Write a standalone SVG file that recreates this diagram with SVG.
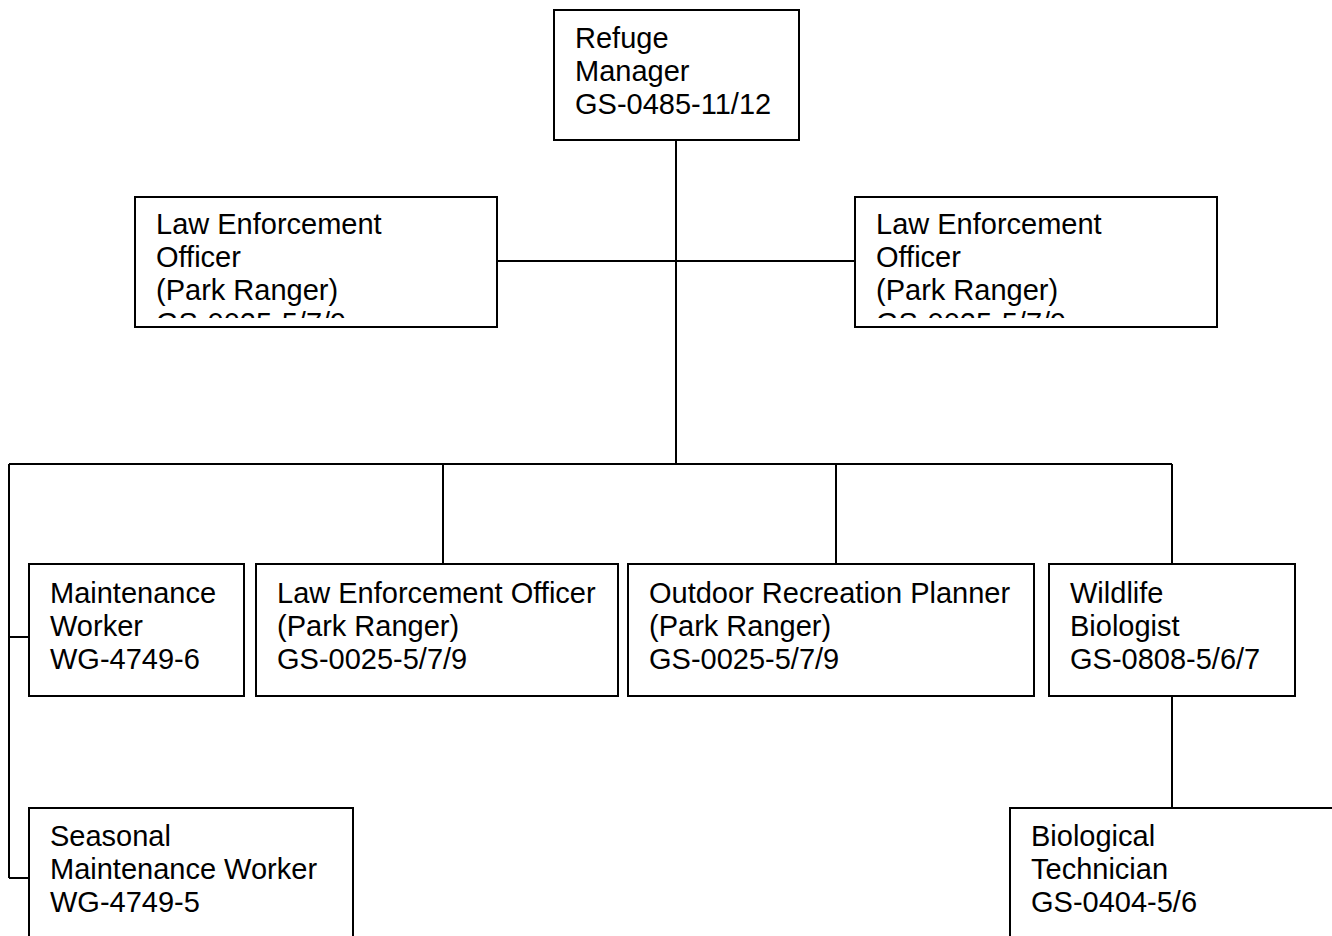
<svg xmlns="http://www.w3.org/2000/svg" width="1332" height="936" viewBox="0 0 1332 936">
<style>
.box{fill:#fff;stroke:#000;stroke-width:2}
.lbl{font-family:"Liberation Sans",Arial,sans-serif;font-size:29px;fill:#000}
.con{stroke:#000;stroke-width:2;fill:none}
</style>
<defs>
<clipPath id="clipL"><rect x="135" y="197" width="362" height="121"/></clipPath>
<clipPath id="clipR"><rect x="855" y="197" width="362" height="121"/></clipPath>
</defs>
<rect width="1332" height="936" fill="#fff"/>
<g id="connectors">
<path class="con" d="M676,140 V464"/>
<path class="con" d="M497,261 H855"/>
<path class="con" d="M9,464 H1172"/>
<path class="con" d="M9,464 V878"/>
<path class="con" d="M9,637 H29"/>
<path class="con" d="M9,878 H29"/>
<path class="con" d="M443,464 V564"/>
<path class="con" d="M836,464 V564"/>
<path class="con" d="M1172,464 V564"/>
<path class="con" d="M1172,696 V808"/>
</g>
<g id="refuge-manager">
<rect class="box" x="554" y="10" width="245" height="130"/>
<text class="lbl" x="575" y="48">Refuge</text>
<text class="lbl" x="575" y="81">Manager</text>
<text class="lbl" x="575" y="114">GS-0485-11/12</text>
</g>
<g id="leo-left">
<rect class="box" x="135" y="197" width="362" height="130"/>
<g clip-path="url(#clipL)">
<text class="lbl" x="156" y="234">Law Enforcement</text>
<text class="lbl" x="156" y="267">Officer</text>
<text class="lbl" x="156" y="300">(Park Ranger)</text>
<text class="lbl" x="156" y="333">GS-0025-5/7/9</text>
</g>
</g>
<g id="leo-right">
<rect class="box" x="855" y="197" width="362" height="130"/>
<g clip-path="url(#clipR)">
<text class="lbl" x="876" y="234">Law Enforcement</text>
<text class="lbl" x="876" y="267">Officer</text>
<text class="lbl" x="876" y="300">(Park Ranger)</text>
<text class="lbl" x="876" y="333">GS-0025-5/7/9</text>
</g>
</g>
<g id="maintenance-worker">
<rect class="box" x="29" y="564" width="215" height="132"/>
<text class="lbl" x="50" y="603">Maintenance</text>
<text class="lbl" x="50" y="636">Worker</text>
<text class="lbl" x="50" y="669">WG-4749-6</text>
</g>
<g id="leo-bottom">
<rect class="box" x="256" y="564" width="362" height="132"/>
<text class="lbl" x="277" y="603">Law Enforcement Officer</text>
<text class="lbl" x="277" y="636">(Park Ranger)</text>
<text class="lbl" x="277" y="669">GS-0025-5/7/9</text>
</g>
<g id="outdoor-recreation-planner">
<rect class="box" x="628" y="564" width="406" height="132"/>
<text class="lbl" x="649" y="603">Outdoor Recreation Planner</text>
<text class="lbl" x="649" y="636">(Park Ranger)</text>
<text class="lbl" x="649" y="669">GS-0025-5/7/9</text>
</g>
<g id="wildlife-biologist">
<rect class="box" x="1049" y="564" width="246" height="132"/>
<text class="lbl" x="1070" y="603">Wildlife</text>
<text class="lbl" x="1070" y="636">Biologist</text>
<text class="lbl" x="1070" y="669">GS-0808-5/6/7</text>
</g>
<g id="seasonal-maintenance-worker">
<rect class="box" x="29" y="808" width="324" height="150"/>
<text class="lbl" x="50" y="846">Seasonal</text>
<text class="lbl" x="50" y="879">Maintenance Worker</text>
<text class="lbl" x="50" y="912">WG-4749-5</text>
</g>
<g id="biological-technician">
<rect class="box" x="1010" y="808" width="340" height="150"/>
<text class="lbl" x="1031" y="846">Biological</text>
<text class="lbl" x="1031" y="879">Technician</text>
<text class="lbl" x="1031" y="912">GS-0404-5/6</text>
</g>
</svg>
